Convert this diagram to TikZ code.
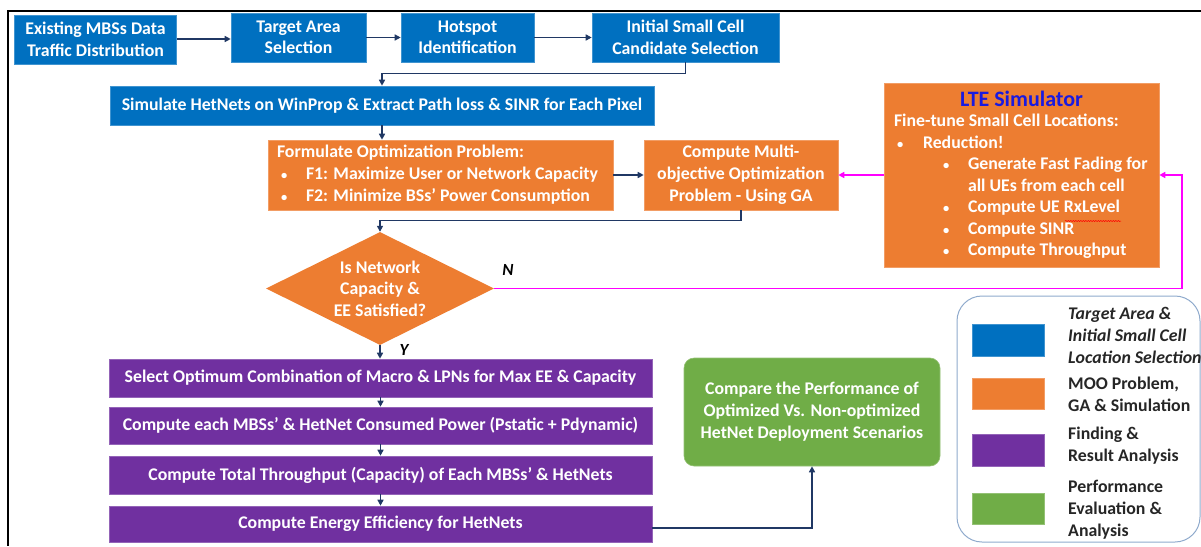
\documentclass[tikz,border=0pt]{standalone}
\usepackage{fontspec}
\setmainfont{Carlito}
\usetikzlibrary{arrows.meta,shapes.geometric,decorations.pathmorphing}

\definecolor{msblue}{HTML}{0070C0}
\definecolor{msorange}{HTML}{ED7D31}
\definecolor{mspurple}{HTML}{7030A0}
\definecolor{msgreen}{HTML}{70AD47}
\definecolor{navy}{HTML}{203864}
\definecolor{loopcol}{HTML}{FF00FF}
\definecolor{ltetitle}{HTML}{1A1AE0}
\definecolor{legendedge}{HTML}{8FAACC}
\definecolor{legendtext}{HTML}{262626}

% small list bullet and indents used inside the boxes
\newcommand{\dotmark}{{\fontsize{12.5}{12}\selectfont\textbullet}}
\newcommand{\bul}{\makebox[29pt][l]{\hspace{4pt}\dotmark}}
\newcommand{\subbul}{\hspace{49pt}\makebox[25pt][l]{\dotmark}}

\begin{document}
\begin{tikzpicture}[x=1pt,y=-1pt,
  font=\fontsize{17.8}{21.5}\selectfont\bfseries,
  box/.style={fill=#1, draw=#1!75!white, line width=0.6pt, text=white,
    inner sep=0pt, align=center},
  flow/.style={draw=navy, line width=1.6pt,
    -{Triangle[length=6pt,width=6pt]}},
  loop/.style={draw=loopcol, line width=1.6pt,
    -{Triangle[length=6pt,width=6pt]}},
  swatch/.style={fill=#1, draw=#1!75!white, line width=0.5pt,
    minimum width=72pt, inner sep=0pt},
  legtext/.style={anchor=west, align=left, text=legendtext, inner sep=0pt,
    font=\fontsize{17.8}{22}\selectfont\bfseries},
  yesno/.style={font=\fontsize{17}{20}\selectfont\bfseries\itshape, inner sep=0pt}
]
\useasboundingbox (0,0) rectangle (1201,546);

% outer frame (top and left edges)
\draw[black, line width=1.2pt] (1201,11) -- (8,11) -- (8,546);

% data preparation stage
\node[box=msblue, minimum width=162, minimum height=49] (b1) at (95.5,39.5)
  {Existing MBSs Data\\Traffic Distribution};
\node[box=msblue, minimum width=135, minimum height=49] (b2) at (298.5,37.5)
  {Target Area\\Selection};
\node[box=msblue, minimum width=133, minimum height=49] (b3) at (467.5,37.5)
  {Hotspot\\Identification};
\node[box=msblue, minimum width=187, minimum height=49] (b4) at (685.5,37.5)
  {Initial Small Cell\\Candidate Selection};
\node[box=msblue, minimum width=544, minimum height=39] (b5) at (382,105.5)
  {Simulate HetNets on WinProp \& Extract Path loss \& SINR for Each Pixel};

% optimisation stage
\node[box=msorange, minimum width=345, minimum height=70, align=left,
  font=\fontsize{17.8}{22}\selectfont\bfseries] (o1) at (440.5,175)
  {\makebox[327pt][l]{Formulate Optimization Problem:}\\
   \bul F1: Maximize User or Network Capacity\\
   \bul F2: Minimize BSs’ Power Consumption};
\node[box=msorange, minimum width=194, minimum height=70,
  font=\fontsize{17.8}{22}\selectfont\bfseries] (o2) at (741,175)
  {Compute Multi-\\objective Optimization\\Problem - Using GA};

\node[diamond, aspect=2, fill=msorange, text=white, align=center,
  inner sep=0pt, minimum width=228, minimum height=113] (q) at (380,288.5)
  {Is Network\\Capacity \&\\EE Satisfied?};
\node[yesno] (nlab) at (508,270) {N};
\node[yesno] (ylab) at (404,350) {Y};

\node[box=msorange, minimum width=275, minimum height=184, align=left]
  (lte) at (1021.5,175)
  {\makebox[255pt][c]{\color{ltetitle}\fontsize{22}{24}\selectfont LTE Simulator}\\[-1pt]
   Fine-tune Small Cell Locations:\\
   \makebox[29pt][l]{\hspace{3pt}\dotmark}Reduction!\\
   \subbul Generate Fast Fading for\\
   \hspace{74pt}all UEs from each cell\\
   \subbul Compute UE RxLevel\\
   \subbul Compute SINR\\
   \subbul Compute Throughput};
% spell-check mark under "RxLevel"
\draw[red, line width=0.5pt, decorate,
  decoration={snake, amplitude=0.6pt, segment length=2.5pt}]
  (1065,221) -- (1121,221);

% result analysis stage
\node[box=mspurple, minimum width=543, minimum height=38] (p1) at (380.5,378)
  {Select Optimum Combination of Macro \& LPNs for Max EE \& Capacity};
\node[box=mspurple, minimum width=543, minimum height=37] (p2) at (380.5,425.5)
  {Compute each MBSs’ \& HetNet Consumed Power (Pstatic + Pdynamic)};
\node[box=mspurple, minimum width=543, minimum height=38] (p3) at (380.5,475)
  {Compute Total Throughput (Capacity) of Each MBSs’ \& HetNets};
\node[box=mspurple, minimum width=543, minimum height=36] (p4) at (380.5,524)
  {Compute Energy Efficiency for HetNets};

% performance evaluation
\node[box=msgreen, rounded corners=10pt, minimum width=256, minimum height=108,
  font=\fontsize{17.8}{22}\selectfont\bfseries]
  (g) at (812,412)
  {Compare the Performance of\\Optimized Vs. Non-optimized\\HetNet Deployment Scenarios};

% connectors
\coordinate (loopx) at (1182,0);
\draw[flow] (b1.east |- 0,39) -- (b2.west |- 0,39);
\draw[flow] (b2.east) -- (b3.west);
\draw[flow] (b3.east) -- (b4.west);
\draw[flow] (b4.south) -- ++(0,11) -| (b5.north);
\draw[flow] (b5.south) -- (b5.south |- o1.north);
\draw[flow] (o1.east) -- (o2.west);
\draw[flow] (o2.south) -- ++(0,10) -| (q.north);
\draw[flow] (q.south) -- (q.south |- p1.north);
\draw[flow] (p1.south) -- (p2.north);
\draw[flow] (p2.south) -- (p3.north);
\draw[flow] (p3.south) -- (p4.north);
\draw[flow] (p4.east |- 0,528) -| (g.south);

\draw[loop] (q.east) -- (q.east -| loopx) |- (lte.east);
\draw[loop] (lte.west) -- (o2.east);

% legend
\node[draw=legendedge, line width=1pt, rounded corners=25pt,
  minimum width=243, minimum height=246, inner sep=0pt] (leg) at (1078.5,419) {};
\node[swatch=msblue, minimum height=32] (s1) at (1008,340) {};
\node[swatch=msorange, minimum height=31] (s2) at (1008,393.5) {};
\node[swatch=mspurple, minimum height=32] (s3) at (1008,450) {};
\node[swatch=msgreen, minimum height=31] (s4) at (1008,508.5) {};
\node[legtext] (t1) at (1068,335.5)
  {\textit{Target Area \&}\\\textit{Initial Small Cell}\\\textit{Location Selection}};
\node[legtext] (t2) at (1068,394) {MOO Problem,\\GA \& Simulation};
\node[legtext] (t3) at (1068,446) {Finding \&\\Result Analysis};
\node[legtext] (t4) at (1068,510) {Performance\\Evaluation \&\\Analysis};
\end{tikzpicture}
\end{document}
